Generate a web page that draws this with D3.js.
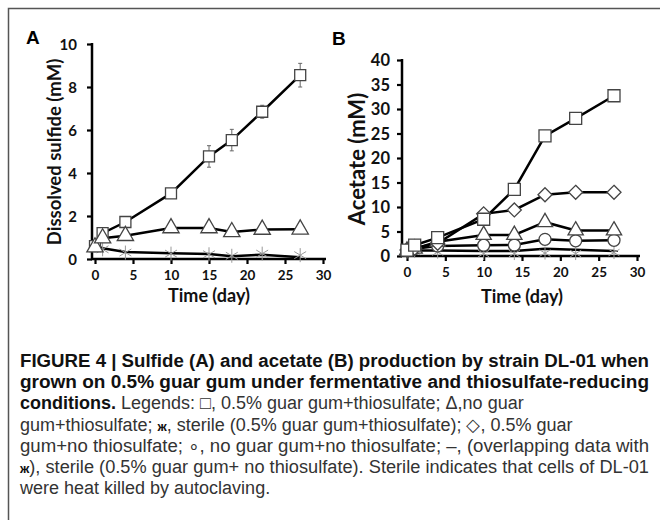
<!DOCTYPE html>
<html>
<head>
<meta charset="utf-8">
<script src="https://cdn.jsdelivr.net/npm/d3@7"></script>
<style>
  body { margin: 0; background: #fff; }
  svg { display: block; }
</style>
</head>
<body>
<svg id="fig" width="660" height="529"></svg>
<script>
// Panel A - dissolved sulfide (mM)
const timesA = [0, 1, 4, 10, 15, 18, 22, 27];
const sulfideGuarThio = [0.6, 1.2, 1.72, 3.05, 4.77, 5.53, 6.85, 8.55];
const sulfideGuarThioErr = [0, 0.1, 0.1, 0.1, 0.5, 0.5, 0.3, 0.55];
const sulfideNoGuarThio = [0.55, 0.97, 1.08, 1.44, 1.44, 1.26, 1.37, 1.38];
const sulfideSterileLine = [0.62, 0.5, 0.33, 0.27, 0.23, 0.13, 0.2, 0.08];
const sulfideSterileMark = [0.62, 0.45, 0.3, 0.25, 0.22, 0.15, 0.25, 0.18];

// Panel B - acetate (mM)
const timesB = [0, 1, 4, 10, 14, 18, 22, 27];
const acetateGuarThio = [1.2, 2.2, 3.75, 7.5, 13.6, 24.5, 28.1, 32.7];
const acetateGuarNoThio = [1.2, 1.6, 2.6, 8.6, 9.4, 12.5, 13.0, 13.0];
const acetateNoGuarThio = [1.1, 1.5, 2.9, 4.3, 4.3, 6.9, 5.2, 5.2];
const acetateNoGuarNoThio = [1.1, 1.5, 2.05, 2.2, 2.25, 3.4, 3.1, 3.2];
const acetateSterileThio = [0.8, 0.9, 0.8, 0.5, 0.5, 0.6, 0.5, 0.7];
const acetateSterileNoThio = [1.0, 1.1, 1.1, 1.0, 1.0, 1.5, 1.3, 1.0];

const ticksX = [0, 5, 10, 15, 20, 25, 30];
const ticksA = [0, 2, 4, 6, 8, 10];
const ticksB = [0, 5, 10, 15, 20, 25, 30, 35, 40];

const captionLines = [
  [{ t: 'FIGURE 4 | Sulfide (A) and acetate (B) production by strain DL-01 when', b: true }],
  [{ t: 'grown on 0.5% guar gum under fermentative and thiosulfate-reducing', b: true }],
  [{ t: 'conditions.', b: true }, { t: ' Legends: \u25A1, 0.5% guar gum+thiosulfate; \u0394,no guar' }],
  [{ t: 'gum+thiosulfate; ' }, { t: '\u0436', b: true, s: 13 }, { t: ', sterile (0.5% guar gum+thiosulfate); \u25C7, 0.5% guar' }],
  [{ t: 'gum+no thiosulfate; \u2218, no guar gum+no thiosulfate; \u2013, (overlapping data with' }],
  [{ t: '\u0436', b: true, s: 13 }, { t: '), sterile (0.5% guar gum+ no thiosulfate). Sterile indicates that cells of DL-01' }],
  [{ t: 'were heat killed by autoclaving.' }]
];
// lines that are spread out to the full column width
const justified = [true, true, false, false, true, true, false];

const svg = d3.select('#fig');
const axisFont = 'Lato, "Open Sans", sans-serif';

// frame round the figure
svg.append('path')
  .attr('d', 'M8.5,520 V8.5 H660')
  .attr('fill', 'none')
  .attr('stroke', '#555')
  .attr('stroke-width', 1.5);

// marker shapes
function markerPath(kind, size) {
  if (kind === 'square') return d3.symbol(d3.symbolSquare, size * size)();
  if (kind === 'triangle') return d3.symbol(d3.symbolTriangle, size * size * 0.45)();
  if (kind === 'diamond') {
    const h = size / 2;
    return `M0,${-h}L${h},0L0,${h}L${-h},0Z`;
  }
  if (kind === 'circle') return d3.symbol(d3.symbolCircle, Math.PI * (size / 2) * (size / 2))();
  if (kind === 'asterisk') {
    const h = size / 2, d = h * 0.85;
    return `M0,${-h}V${h}M${-d},${-d * 0.6}L${d},${d * 0.6}M${-d},${d * 0.6}L${d},${-d * 0.6}`;
  }
  if (kind === 'dash') return `M${-size / 2},0H${size / 2}`;
  return '';
}

function buildPanel(opts) {
  const x = d3.scaleLinear().domain([0, 30]).range(opts.xRange);
  const y = d3.scaleLinear().domain(opts.yDomain).range(opts.yRange);
  const g = svg.append('g');

  // x axis
  const xAxis = g.append('g')
    .attr('transform', `translate(0,${y(0)})`)
    .call(d3.axisBottom(x).tickValues(ticksX).tickSize(5).tickPadding(6));
  // y axis
  const yAxis = g.append('g')
    .attr('transform', `translate(${opts.axisX},0)`)
    .call(d3.axisLeft(y).tickValues(opts.yTicks).tickSize(5).tickPadding(opts.yPad));

  [xAxis, yAxis].forEach(a => {
    a.select('.domain').remove();
    a.selectAll('line').attr('stroke', '#000').attr('stroke-width', 2.2);
    a.selectAll('text')
      .attr('fill', '#111')
      .style('font-family', axisFont)
      .style('font-weight', 'bold');
  });
  xAxis.selectAll('text').style('font-size', opts.xTickSize + 'px');
  yAxis.selectAll('text').style('font-size', opts.yTickSize + 'px').attr('dy', '0.36em');

  g.append('path')
    .attr('d', `M${opts.axisX},${y(opts.yDomain[1]) - 1}V${y(0)}H${x(30) + 3}`)
    .attr('fill', 'none')
    .attr('stroke', '#000')
    .attr('stroke-width', 2.5);

  // axis titles
  g.append('text')
    .attr('x', (x(0) + x(30)) / 2)
    .attr('y', opts.xTitleY)
    .attr('text-anchor', 'middle')
    .style('font-family', axisFont)
    .style('font-weight', 'bold')
    .style('font-size', '18px')
    .attr('fill', '#111')
    .text('Time (day)');

  g.append('text')
    .attr('transform', `translate(${opts.yTitleX},${opts.yTitleY}) rotate(-90)`)
    .attr('text-anchor', 'middle')
    .style('font-family', axisFont)
    .style('font-weight', 'bold')
    .style('font-size', opts.yTitleSize + 'px')
    .attr('fill', '#111')
    .text(opts.yTitle);

  // panel letter
  g.append('text')
    .attr('x', opts.letterX)
    .attr('y', opts.letterY)
    .style('font-family', 'Liberation Sans, Arial, sans-serif')
    .style('font-weight', 'bold')
    .style('font-size', '19px')
    .attr('fill', '#000')
    .text(opts.letter);

  const line = d3.line()
    .x(d => x(d[0]))
    .y(d => y(d[1]));

  // lines first, then the markers on top
  opts.series.forEach(s => {
    if (!s.values) return;
    g.append('path')
      .datum(opts.times.map((t, i) => [t, s.values[i]]))
      .attr('d', line)
      .attr('fill', 'none')
      .attr('stroke', '#000')
      .attr('stroke-width', 2.5);
  });

  opts.series.forEach(s => {
    const marks = s.marks || s.values;
    const pts = opts.times.map((t, i) => [t, marks[i], s.err ? s.err[i] : 0]);

    if (s.err) {
      g.selectAll(null)
        .data(pts.filter(p => p[2] > 0.2))
        .enter()
        .append('path')
        .attr('d', p => {
          const cx = x(p[0]), y1 = y(p[1] + p[2]), y2 = y(p[1] - p[2]);
          return `M${cx},${y1}V${y2}M${cx - 2},${y1}H${cx + 2}M${cx - 2},${y2}H${cx + 2}`;
        })
        .attr('fill', 'none')
        .attr('stroke', '#666')
        .attr('stroke-width', 1);
    }

    g.selectAll(null)
      .data(pts.filter(p => p[1] != null))
      .enter()
      .append('path')
      .attr('transform', p => `translate(${x(p[0])},${y(p[1])})`)
      .attr('d', markerPath(s.kind, s.size))
      .attr('fill', s.kind === 'asterisk' || s.kind === 'dash' ? 'none' : '#fff')
      .attr('stroke', s.color || '#444')
      .attr('stroke-width', s.kind === 'asterisk' ? 1 : 1.3);
  });
}

buildPanel({
  letter: 'A', letterX: 26, letterY: 44,
  xRange: [95, 323], yDomain: [0, 10], yRange: [259, 44],
  axisX: 92, yTicks: ticksA, yPad: 10, yTickSize: 15, xTickSize: 13.5,
  xTitleY: 302, yTitleX: 61, yTitleY: 152, yTitleSize: 18.5,
  yTitle: 'Dissolved sulfide (mM)',
  times: timesA,
  series: [
    { values: sulfideSterileLine, marks: sulfideSterileMark, kind: 'asterisk', size: 14, color: '#999' },
    { values: sulfideGuarThio, err: sulfideGuarThioErr, kind: 'square', size: 11 },
    { values: sulfideNoGuarThio, kind: 'triangle', size: 16 }
  ]
});

buildPanel({
  letter: 'B', letterX: 332, letterY: 45,
  xRange: [407, 637], yDomain: [0, 40], yRange: [256, 60],
  axisX: 402, yTicks: ticksB, yPad: 7, yTickSize: 16.5, xTickSize: 13.5,
  xTitleY: 303, yTitleX: 365, yTitleY: 159, yTitleSize: 22,
  yTitle: 'Acetate (mM)',
  times: timesB,
  series: [
    { values: acetateSterileNoThio, kind: 'dash', size: 8, color: '#000' },
    { values: null, marks: acetateSterileThio, kind: 'asterisk', size: 13, color: '#999' },
    { values: acetateNoGuarNoThio, kind: 'circle', size: 12 },
    { values: acetateNoGuarThio, kind: 'triangle', size: 15 },
    { values: acetateGuarNoThio, kind: 'diamond', size: 14 },
    { values: acetateGuarThio, kind: 'square', size: 12 }
  ]
});

// caption below the charts
const cap = svg.append('g')
  .style('font-family', '"Liberation Sans", Arial, sans-serif')
  .style('font-size', '18px');

const captionRight = 649;
captionLines.forEach((parts, i) => {
  const t = cap.append('text')
    .attr('x', 20)
    .attr('y', 367 + i * 21.2)
    .attr('fill', '#222');
  parts.forEach(p => {
    t.append('tspan')
      .style('font-weight', p.b ? 'bold' : 'normal')
      .style('font-size', p.s ? p.s + 'px' : null)
      .attr('fill', p.b ? '#111' : '#333')
      .text(p.t);
  });
  if (justified[i]) {
    // stretch (or squeeze) the line so it ends at the right margin
    t.attr('textLength', captionRight - 20).attr('lengthAdjust', 'spacingAndGlyphs');
  }
});
</script>
</body>
</html>
